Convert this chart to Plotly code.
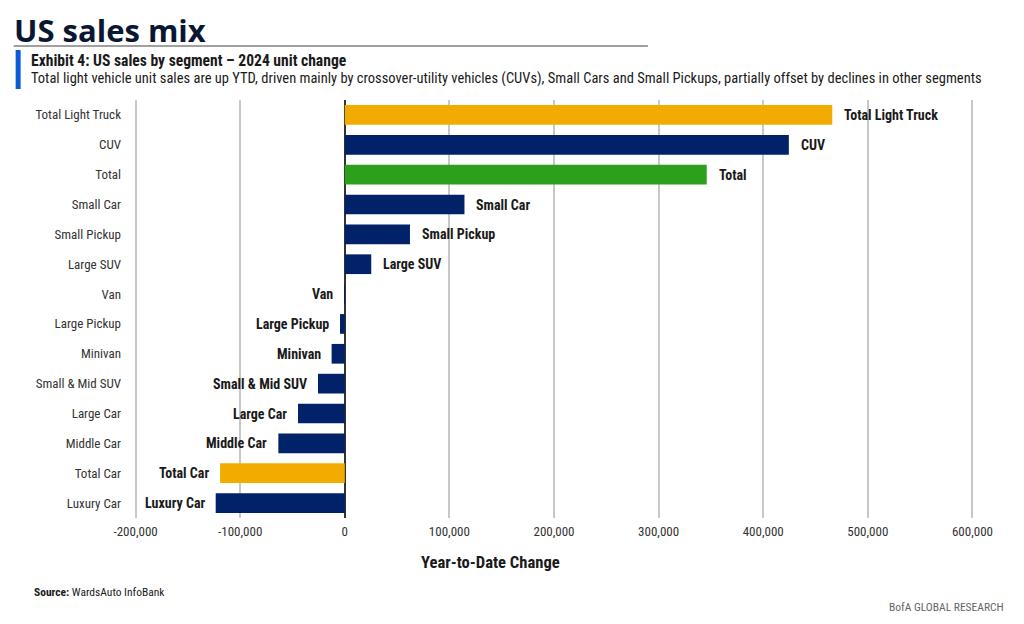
import plotly.graph_objects as go

categories = ["Total Light Truck", "CUV", "Total", "Small Car", "Small Pickup", "Large SUV", "Van",
              "Large Pickup", "Minivan", "Small & Mid SUV", "Large Car", "Middle Car", "Total Car", "Luxury Car"]
values = [466000, 424500, 346000, 114400, 62300, 25300, -300,
          -4600, -12600, -25600, -44700, -63500, -119200, -123400]
bar_colors = ["#F2AC00", "#012169", "#2CA01C", "#012169", "#012169", "#012169", "#012169",
              "#012169", "#012169", "#012169", "#012169", "#012169", "#F2AC00", "#012169"]
x_ticks = [-200000, -100000, 0, 100000, 200000, 300000, 400000, 500000, 600000]
x_tick_labels = ["-200,000", "-100,000", "0", "100,000", "200,000", "300,000", "400,000", "500,000", "600,000"]

FONT = "Roboto Condensed, Liberation Sans Narrow, DejaVu Sans Condensed, sans-serif"
TXT = "#1a1a1a"

# page body has an 8px margin: work in reference-page pixels, convert to figure pixels
OFF = 8
W, H = 1024 - OFF, 624 - OFF
L, R, T, B = 133.5 - OFF, 974.5 - OFF, 100 - OFF, 518 - OFF
PW, PH = R - L, B - T


def px(xpage):
    return ((xpage - OFF) - L) / PW


def py(ypage):
    return (B - (ypage - OFF)) / PH


fig = go.Figure()
fig.add_trace(go.Bar(
    y=categories, x=values, orientation="h",
    marker=dict(color=bar_colors, line=dict(width=0)),
    hoverinfo="skip", showlegend=False,
))

for c, v in zip(categories, values):
    pos = v > 0
    fig.add_annotation(x=v, y=c, xref="x", yref="y", text=f"<b>{c}</b>", showarrow=False,
                       xanchor="left" if pos else "right", xshift=10 if pos else -9,
                       font=dict(family=FONT, size=14, color=TXT))

fig.update_layout(
    width=W, height=H,
    margin=dict(l=L, r=W - R, t=T, b=H - B, autoexpand=False),
    paper_bgcolor="white", plot_bgcolor="white",
    font=dict(family=FONT, size=13, color="#333333"),
    bargap=0.34,
    xaxis=dict(range=[-201500, 601500], tickvals=x_ticks, ticktext=x_tick_labels,
               showgrid=True, gridcolor="#c8c8c8", gridwidth=2,
               zeroline=True, zerolinecolor="#333333", zerolinewidth=1.5,
               showline=False, ticks="", ticklabelstandoff=4, automargin=False,
               tickfont=dict(family=FONT, size=13, color="#333333"), fixedrange=True),
    yaxis=dict(autorange="reversed", showgrid=False, zeroline=False, ticks="", automargin=False,
               ticklabelstandoff=12, tickfont=dict(family=FONT, size=13, color="#333333"),
               fixedrange=True),
)

# Header
fig.add_annotation(xref="paper", yref="paper", x=px(12), y=py(8), xanchor="left", yanchor="top",
                   text="<b>US sales mix</b>", showarrow=False, borderpad=0,
                   font=dict(family="Open Sans, sans-serif", size=31, color="#0a1733"))
fig.add_shape(type="line", xref="paper", yref="paper",
              x0=px(13), x1=px(648), y0=py(46), y1=py(46),
              line=dict(color="#808080", width=1.5))
fig.add_shape(type="rect", xref="paper", yref="paper",
              x0=px(15), x1=px(20), y0=py(89), y1=py(50),
              line=dict(width=0), fillcolor="#0a5bd6")
fig.add_annotation(xref="paper", yref="paper", x=px(28), y=py(61), xanchor="left", yanchor="middle",
                   text="<b>Exhibit 4: US sales by segment \u2013 2024 unit change</b>", showarrow=False,
                   font=dict(family=FONT, size=15.6, color=TXT))
fig.add_annotation(xref="paper", yref="paper", x=px(28), y=py(79), xanchor="left", yanchor="middle",
                   text="Total light vehicle unit sales are up YTD, driven mainly by crossover-utility vehicles (CUVs), Small Cars and Small Pickups, partially offset by declines in other segments",
                   showarrow=False, font=dict(family=FONT, size=14.5, color=TXT))

# Axis title
fig.add_annotation(xref="paper", yref="paper", x=px(490), y=py(562), xanchor="center", yanchor="middle",
                   text="<b>Year-to-Date Change</b>", showarrow=False,
                   font=dict(family=FONT, size=16.6, color=TXT))
# Footer
fig.add_annotation(xref="paper", yref="paper", x=px(31), y=py(592), xanchor="left", yanchor="middle",
                   text="<b>Source:</b> WardsAuto InfoBank", showarrow=False,
                   font=dict(family=FONT, size=11.5, color=TXT))
fig.add_annotation(xref="paper", yref="paper", x=px(1007), y=py(607), xanchor="right", yanchor="middle",
                   text="BofA GLOBAL RESEARCH", showarrow=False,
                   font=dict(family=FONT, size=11.5, color="#666666"))

fig.write_html("out.html")
